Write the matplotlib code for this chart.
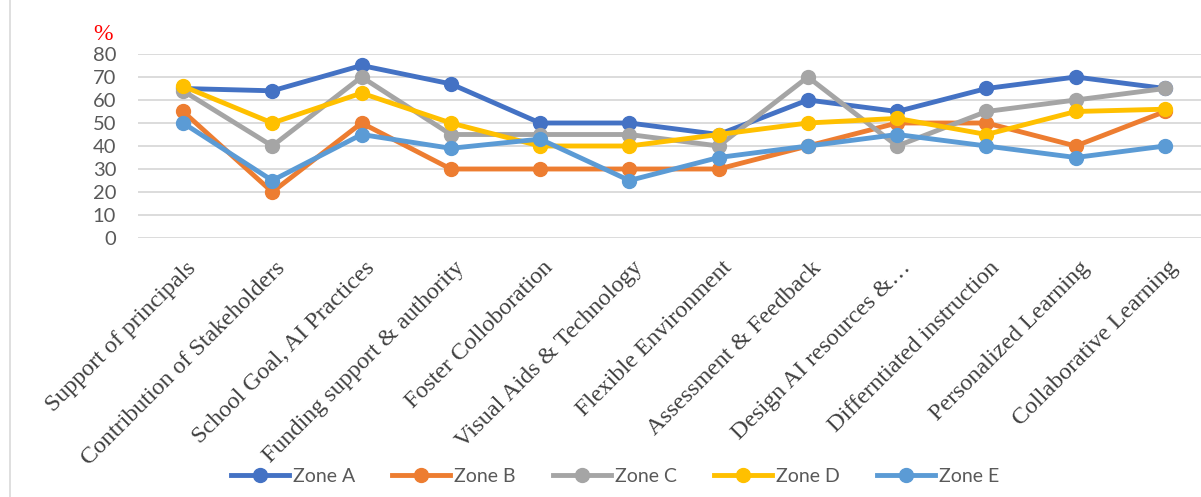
import matplotlib
matplotlib.use("Agg")
import matplotlib.pyplot as plt
from matplotlib.lines import Line2D

categories = [
    "Support of principals",
    "Contribution of Stakeholders",
    "School Goal, AI Practices",
    "Funding support & authority",
    "Foster Colloboration",
    "Visual Aids & Technology",
    "Flexible Environment",
    "Assessment & Feedback",
    "Design AI resources &\u2026",
    "Differntiated instruction",
    "Personalized Learning",
    "Collaborative Learning",
]

zone_a = [65, 64, 75, 67, 50, 50, 45, 60, 55, 65, 70, 65]
zone_b = [55, 20, 50, 30, 30, 30, 30, 40, 50, 50, 40, 55]
zone_c = [64, 40, 70, 45, 45, 45, 40, 70, 40, 55, 60, 65]
zone_d = [66, 50, 63, 50, 40, 40, 45, 50, 52, 45, 55, 56]
zone_e = [50, 25, 45, 39, 43, 25, 35, 40, 45, 40, 35, 40]

series_names = ["Zone A", "Zone B", "Zone C", "Zone D", "Zone E"]
series_values = [zone_a, zone_b, zone_c, zone_d, zone_e]
series_colors = ["#4472C4", "#ED7D31", "#A5A5A5", "#FFC000", "#5B9BD5"]

y_ticks = [0, 10, 20, 30, 40, 50, 60, 70, 80]

W, H = 1201, 497
fig = plt.figure(figsize=(W / 100, H / 100), dpi=100)

# plot area in pixel units converted to figure fractions
left_px, right_px = 138.4, 1209.6
top_px, bottom_px = 54, 238
ax = fig.add_axes([left_px / W, 1 - bottom_px / H,
                   (right_px - left_px) / W, (bottom_px - top_px) / H])

x = list(range(len(categories)))
for name, vals, col in zip(series_names, series_values, series_colors):
    ax.plot(x, vals, color=col, lw=3.5, marker="o", ms=10,
            solid_capstyle="round", label=name, clip_on=False, zorder=3)

ax.set_xlim(-0.5, len(categories) - 0.5)
ax.set_ylim(0, 80)
ax.set_yticks(y_ticks)
ax.set_yticklabels([str(v) for v in y_ticks], fontfamily="Lato",
                   fontsize=14.5, color="#595959")
ax.yaxis.grid(True, color="#D9D9D9", lw=1.3)
ax.set_axisbelow(True)
ax.tick_params(axis="y", length=0, pad=16)
ax.tick_params(axis="x", length=0)
for s in ax.spines.values():
    s.set_visible(False)

ax.set_xticks(x)
ax.set_xticklabels([])
for i, lab in enumerate(categories):
    ax.annotate(lab, xy=(i, 0), xycoords="data", xytext=(2, -14),
                textcoords="offset points", rotation=45, ha="right",
                va="top", rotation_mode="anchor", fontsize=17.3,
                fontfamily="Liberation Serif", color="#404040")

# unit label above the value axis
fig.text(103 / W, 1 - 34 / H, "%", color="#FF0000", fontsize=17,
         fontfamily="Liberation Serif", ha="center", va="center")

handles = [Line2D([], [], color=c, lw=3.5, marker="o", ms=10)
           for c in series_colors]
fig.legend(handles, series_names, loc="center", ncol=5,
           bbox_to_anchor=(615 / W, 1 - 476 / H), frameon=False,
           prop={"family": "Lato", "size": 14}, labelcolor="#595959",
           handlelength=3.0, handletextpad=0.2, columnspacing=1.9)

# chart frame on the left edge
fig.add_artist(Line2D([10 / W, 10 / W], [0, 1], color="#D9D9D9", lw=1.2,
                      transform=fig.transFigure))

fig.savefig("out.png", dpi=100)
